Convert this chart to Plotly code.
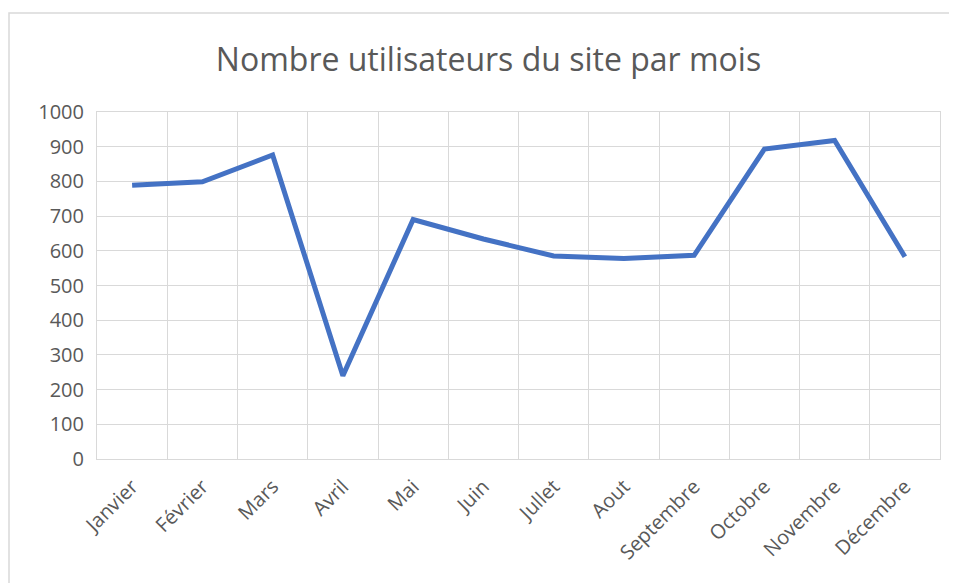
import plotly.graph_objects as go

mois = ["Janvier", "Février", "Mars", "Avril", "Mai", "Juin", "Jullet", "Aout",
        "Septembre", "Octobre", "Novembre", "Décembre"]
utilisateurs = [789, 799, 876, 240, 690, 634, 585, 578, 587, 893, 918, 583]
y_ticks = [0, 100, 200, 300, 400, 500, 600, 700, 800, 900, 1000]
titre = "Nombre utilisateurs du site par mois"

OFF = 8  # page body margin
W, H = 957 - OFF, 583 - OFF
grid = "#d9d9d9"
txt = "#595959"
font = "Open Sans"

L, R, T, B = 97 - OFF, W - (940 - OFF), 112 - OFF, H - (459 - OFF)
PW, PH = W - L - R, H - T - B

fig = go.Figure()
fig.add_trace(go.Scatter(
    x=mois, y=utilisateurs, mode="lines",
    line=dict(color="#4472C4", width=5, shape="linear"),
    hoverinfo="x+y", showlegend=False,
))

fig.update_layout(
    width=W, height=H,
    margin=dict(l=L, r=R, t=T, b=B),
    paper_bgcolor="white", plot_bgcolor="white",
    title=dict(text=titre, x=(488.5 - OFF) / W, xref="container", xanchor="center",
               y=1 - (60 - OFF) / H, yref="container", yanchor="middle",
               font=dict(family=font, size=32, color=txt)),
    font=dict(family=font, color=txt),
    xaxis=dict(
        type="category", tickson="boundaries", showgrid=True, gridcolor=grid,
        gridwidth=1, ticks="", tickangle=-45, tickfont=dict(size=20, color=txt),
        showline=True, linecolor=grid, linewidth=1, mirror=True,
        range=[-0.5, len(mois) - 0.5], zeroline=False, ticklabelstandoff=7,
    ),
    yaxis=dict(
        range=[0, 1000], tickvals=y_ticks, showgrid=True, gridcolor=grid,
        gridwidth=1, ticks="", tickfont=dict(size=20, color=txt),
        showline=True, linecolor=grid, linewidth=1, mirror=True,
        zeroline=False, ticklabelstandoff=8,
    ),
    shapes=[dict(type="rect", xref="paper", yref="paper",
                 x0=(1 - L) / PW, x1=1.2,
                 y0=-0.5, y1=1 + (T - 5) / PH,
                 line=dict(color=grid, width=1.5), fillcolor="rgba(0,0,0,0)",
                 layer="below")],
)

fig.write_html("out.html")
